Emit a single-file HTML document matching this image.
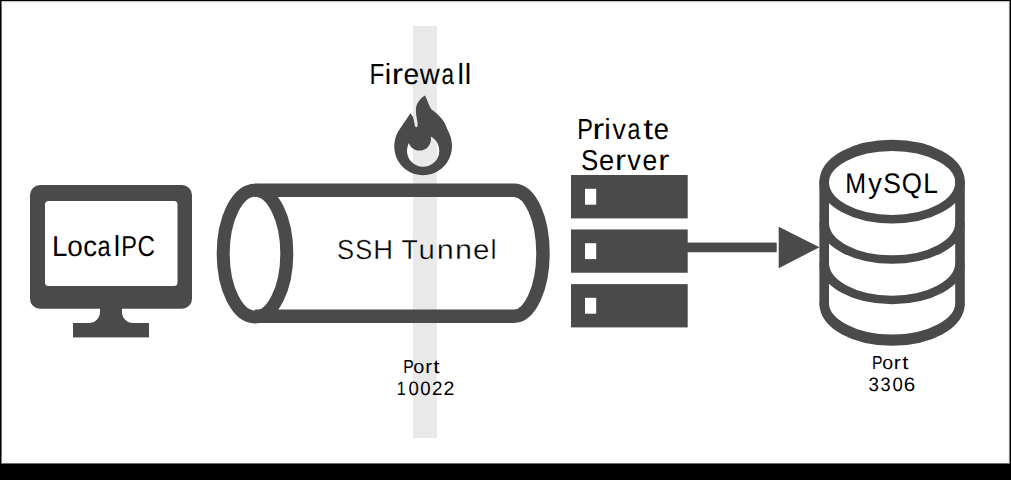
<!DOCTYPE html>
<html>
<head>
<meta charset="utf-8">
<style>
html,body{margin:0;padding:0;background:#000;}
body{width:1011px;height:480px;overflow:hidden;position:relative;}
svg{position:absolute;left:0;top:0;display:block;}
text{font-family:"Liberation Sans", sans-serif;fill:#000;text-rendering:geometricPrecision;}
</style>
</head>
<body>
<svg width="1011" height="480" viewBox="0 0 1011 480">
  <rect x="0" y="0" width="1011" height="480" fill="#000"/>
  <rect x="1" y="1" width="1009" height="462" fill="#fff"/>
  <rect x="1" y="1" width="1009" height="1" fill="#c8c8c8"/>
  <rect x="1" y="2" width="1009" height="1" fill="#f4f4f4"/>
  <rect x="1" y="462" width="1009" height="1" fill="#f4f4f4"/>
  <rect x="1" y="463" width="1009" height="1" fill="#707070"/>
  <rect x="1" y="1" width="1" height="463" fill="#747474"/>
  <rect x="2" y="2" width="1" height="461" fill="#f8f8f8"/>
  <rect x="1008" y="2" width="1" height="461" fill="#f4f4f4"/>
  <rect x="1009" y="1" width="1" height="463" fill="#7c7c7c"/>

  <!-- firewall bar -->
  <rect x="413" y="26" width="24" height="412" fill="#e9e9e9"/>

  <!-- monitor -->
  <g fill="#4a4a4a">
    <rect x="30" y="185" width="162" height="123.8" rx="10" ry="10"/>
    <path d="M100,306 L100,312 A11,11 0 0 1 89,323 L133,323 A11,11 0 0 1 122,312 L122,306 Z"/>
    <rect x="73" y="323" width="76" height="14.4"/>
  </g>
  <rect x="45" y="201" width="132.5" height="85" rx="3.5" ry="3.5" fill="#fff"/>

  <!-- tunnel -->
  <g fill="none" stroke="#4a4a4a" stroke-width="13.5">
    <ellipse cx="255" cy="253.6" rx="31.8" ry="63.4" stroke-width="13"/>
    <path d="M255,190.2 L514,190.2 A29,63 0 0 1 514,316.2 L255,316.2"/>
  </g>

  <!-- flame -->
  <path fill="#4a4a4a" fill-rule="evenodd" d="M425,95.6 C427.5,100 428.5,105.5 431.5,109.5 C437,113.5 444,119 447,128.5 C450.5,135 452,140 452,146 C452,162.5 439,175.2 423.2,175.2 C407,175.2 394.3,162.5 394.3,146.5 C394.3,139 397,132 401.5,126.5 L410.4,113.2 C412.5,115 413.8,118.5 414.3,122.5 C414.6,125.5 415.2,127.3 416.3,127.3 C417.5,127.3 417.9,125 417.6,123 C417,119 415.8,114 415.9,110 C416,104 419.5,99 425,95.6 Z M439.3,150.65 A16.15,16.15 0 1 0 407,150.65 A16.15,16.15 0 1 0 439.3,150.65 Z"/>
  <circle cx="419.5" cy="139" r="11.5" fill="#4a4a4a"/>

  <!-- server -->
  <g fill="#4a4a4a">
    <rect x="571" y="175" width="116.7" height="43.4"/>
    <rect x="571" y="229.45" width="116.7" height="43.3"/>
    <rect x="571" y="284.1" width="116.7" height="43.3"/>
    <rect x="687" y="242.55" width="89.7" height="9.7"/>
    <polygon points="778.7,226.7 819.5,247.2 778.7,268.2"/>
  </g>
  <g fill="#fff">
    <rect x="585" y="188.8" width="11.2" height="15.9"/>
    <rect x="585" y="243.2" width="11.2" height="15.9"/>
    <rect x="585" y="297.8" width="11.2" height="15.9"/>
  </g>

  <!-- database -->
  <g fill="none" stroke="#4a4a4a" stroke-width="9.6">
    <path d="M824.2,180.3 L824.2,305.2 M960,180.3 L960,305.2"/>
    <path transform="translate(0,182.3) scale(1,1.172) translate(0,-182.3)" d="M824.2,182.3 A67.9,31.485 0 0 1 960,182.3"/>
    <path transform="translate(0,182.3) scale(1,0.885) translate(0,-182.3)" d="M824.2,182.3 A67.9,41.695 0 0 0 960,182.3"/>
    <path transform="translate(0,222.7) scale(1,0.885) translate(0,-222.7)" d="M824.2,222.7 A67.9,41.695 0 0 0 960,222.7"/>
    <path transform="translate(0,263.0) scale(1,0.885) translate(0,-263.0)" d="M824.2,263.0 A67.9,41.695 0 0 0 960,263.0"/>
    <path transform="translate(0,303.2) scale(1,1.172) translate(0,-303.2)" d="M824.2,303.2 A67.9,31.485 0 0 0 960,303.2"/>
  </g>

  <!-- TEXT START -->
  <text x="52.08" y="256" font-size="28.9" textLength="15.44" lengthAdjust="spacingAndGlyphs">L</text>
  <text x="67.23" y="256" font-size="28.9" textLength="15.55" lengthAdjust="spacingAndGlyphs">o</text>
  <text x="83.23" y="256" font-size="28.9" textLength="13.80" lengthAdjust="spacingAndGlyphs">c</text>
  <text x="97.60" y="256" font-size="28.9" textLength="13.10" lengthAdjust="spacingAndGlyphs">a</text>
  <text x="113.73" y="256" font-size="28.9" textLength="6.42" lengthAdjust="spacingAndGlyphs">l</text>
  <text x="121.27" y="256" font-size="28.9" textLength="15.67" lengthAdjust="spacingAndGlyphs">P</text>
  <text x="137.57" y="256" font-size="28.9" textLength="17.45" lengthAdjust="spacingAndGlyphs">C</text>
  <text x="369.60" y="84" font-size="29.1" textLength="14.87" lengthAdjust="spacingAndGlyphs">F</text>
  <text x="384.87" y="84" font-size="29.1" textLength="6.47" lengthAdjust="spacingAndGlyphs">i</text>
  <text x="391.84" y="84" font-size="29.1" textLength="11.32" lengthAdjust="spacingAndGlyphs">r</text>
  <text x="403.50" y="84" font-size="29.1" textLength="15.64" lengthAdjust="spacingAndGlyphs">e</text>
  <text x="419.74" y="84" font-size="29.1" textLength="19.99" lengthAdjust="spacingAndGlyphs">w</text>
  <text x="441.59" y="84" font-size="29.1" textLength="12.51" lengthAdjust="spacingAndGlyphs">a</text>
  <text x="457.59" y="84" font-size="29.1" textLength="6.47" lengthAdjust="spacingAndGlyphs">l</text>
  <text x="464.76" y="84" font-size="29.1" textLength="6.47" lengthAdjust="spacingAndGlyphs">l</text>
  <text x="577.37" y="139" font-size="29.1" textLength="15.67" lengthAdjust="spacingAndGlyphs">P</text>
  <text x="592.56" y="139" font-size="29.1" textLength="11.72" lengthAdjust="spacingAndGlyphs">r</text>
  <text x="604.37" y="139" font-size="29.1" textLength="6.47" lengthAdjust="spacingAndGlyphs">i</text>
  <text x="612.41" y="139" font-size="29.1" textLength="13.28" lengthAdjust="spacingAndGlyphs">v</text>
  <text x="627.42" y="139" font-size="29.1" textLength="12.88" lengthAdjust="spacingAndGlyphs">a</text>
  <text x="643.16" y="139" font-size="29.1" textLength="9.90" lengthAdjust="spacingAndGlyphs">t</text>
  <text x="653.84" y="139" font-size="29.1" textLength="15.17" lengthAdjust="spacingAndGlyphs">e</text>
  <text x="580.92" y="170" font-size="28.8" textLength="17.26" lengthAdjust="spacingAndGlyphs">S</text>
  <text x="599.04" y="170" font-size="28.8" textLength="15.17" lengthAdjust="spacingAndGlyphs">e</text>
  <text x="615.10" y="170" font-size="28.8" textLength="11.06" lengthAdjust="spacingAndGlyphs">r</text>
  <text x="627.31" y="170" font-size="28.8" textLength="13.59" lengthAdjust="spacingAndGlyphs">v</text>
  <text x="642.38" y="170" font-size="28.8" textLength="14.70" lengthAdjust="spacingAndGlyphs">e</text>
  <text x="658.20" y="170" font-size="28.8" textLength="11.06" lengthAdjust="spacingAndGlyphs">r</text>
  <text x="845.25" y="193" font-size="28.4" textLength="20.80" lengthAdjust="spacingAndGlyphs">M</text>
  <text x="868.23" y="193" font-size="28.4" textLength="13.52" lengthAdjust="spacingAndGlyphs">y</text>
  <text x="883.30" y="193" font-size="28.4" textLength="17.61" lengthAdjust="spacingAndGlyphs">S</text>
  <text x="901.77" y="193" font-size="28.4" textLength="20.17" lengthAdjust="spacingAndGlyphs">Q</text>
  <text x="923.14" y="193" font-size="28.4" textLength="14.63" lengthAdjust="spacingAndGlyphs">L</text>
  <text x="336.89" y="259" font-size="27.6" textLength="17.09" lengthAdjust="spacingAndGlyphs" fill="#1a1a1a" stroke="#fff" stroke-width="0.35">S</text>
  <text x="355.34" y="259" font-size="27.6" textLength="17.03" lengthAdjust="spacingAndGlyphs" fill="#1a1a1a" stroke="#fff" stroke-width="0.35">S</text>
  <text x="373.30" y="259" font-size="27.6" textLength="19.84" lengthAdjust="spacingAndGlyphs" fill="#1a1a1a" stroke="#fff" stroke-width="0.35">H</text>
  <text x="401.60" y="259" font-size="27.6" textLength="16.31" lengthAdjust="spacingAndGlyphs" fill="#1a1a1a" stroke="#fff" stroke-width="0.35">T</text>
  <text x="418.49" y="259" font-size="27.6" textLength="16.36" lengthAdjust="spacingAndGlyphs" fill="#1a1a1a" stroke="#fff" stroke-width="0.35">u</text>
  <text x="436.67" y="259" font-size="27.6" textLength="17.02" lengthAdjust="spacingAndGlyphs" fill="#1a1a1a" stroke="#fff" stroke-width="0.35">n</text>
  <text x="455.07" y="259" font-size="27.6" textLength="17.02" lengthAdjust="spacingAndGlyphs" fill="#1a1a1a" stroke="#fff" stroke-width="0.35">n</text>
  <text x="472.94" y="259" font-size="27.6" textLength="16.47" lengthAdjust="spacingAndGlyphs" fill="#1a1a1a" stroke="#fff" stroke-width="0.35">e</text>
  <text x="490.40" y="259" font-size="27.6" textLength="6.13" lengthAdjust="spacingAndGlyphs" fill="#1a1a1a" stroke="#fff" stroke-width="0.35">l</text>
  <text x="403.21" y="373.1" font-size="18.8" textLength="10.53" lengthAdjust="spacingAndGlyphs">P</text>
  <text x="413.36" y="373.1" font-size="18.8" textLength="11.07" lengthAdjust="spacingAndGlyphs">o</text>
  <text x="425.18" y="373.1" font-size="18.8" textLength="6.86" lengthAdjust="spacingAndGlyphs">r</text>
  <text x="433.36" y="373.1" font-size="18.8" textLength="6.31" lengthAdjust="spacingAndGlyphs">t</text>
  <text x="396.86" y="395.1" font-size="19.4" textLength="9.03" lengthAdjust="spacingAndGlyphs">1</text>
  <text x="408.47" y="395.1" font-size="19.4" textLength="10.35" lengthAdjust="spacingAndGlyphs">0</text>
  <text x="420.17" y="395.1" font-size="19.4" textLength="10.35" lengthAdjust="spacingAndGlyphs">0</text>
  <text x="431.95" y="395.1" font-size="19.4" textLength="10.50" lengthAdjust="spacingAndGlyphs">2</text>
  <text x="443.62" y="395.1" font-size="19.4" textLength="10.87" lengthAdjust="spacingAndGlyphs">2</text>
  <text x="871.91" y="369" font-size="18.8" textLength="10.53" lengthAdjust="spacingAndGlyphs">P</text>
  <text x="882.37" y="369" font-size="18.8" textLength="10.95" lengthAdjust="spacingAndGlyphs">o</text>
  <text x="893.89" y="369" font-size="18.8" textLength="7.06" lengthAdjust="spacingAndGlyphs">r</text>
  <text x="902.27" y="369" font-size="18.8" textLength="6.09" lengthAdjust="spacingAndGlyphs">t</text>
  <text x="868.39" y="390.9" font-size="19.4" textLength="10.44" lengthAdjust="spacingAndGlyphs">3</text>
  <text x="880.61" y="390.9" font-size="19.4" textLength="10.09" lengthAdjust="spacingAndGlyphs">3</text>
  <text x="892.47" y="390.9" font-size="19.4" textLength="10.35" lengthAdjust="spacingAndGlyphs">0</text>
  <text x="903.65" y="390.9" font-size="19.4" textLength="11.45" lengthAdjust="spacingAndGlyphs">6</text>
  <!-- TEXT END -->
</svg>
</body>
</html>
